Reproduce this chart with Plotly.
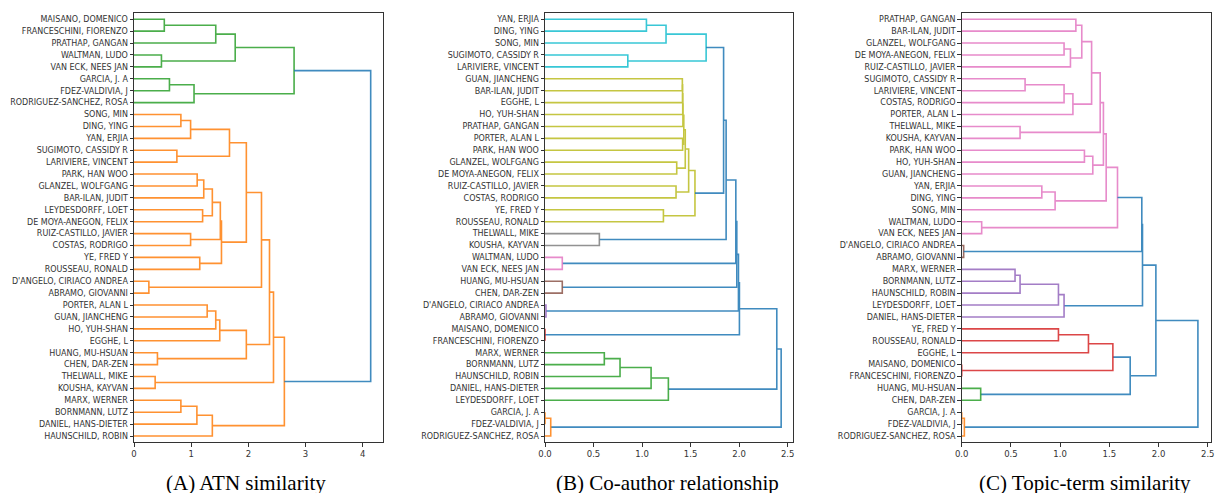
import plotly.graph_objects as go

# ---------------- DATA ----------------
# Leaf labels, top to bottom, for each dendrogram
labels_a = ["MAISANO, DOMENICO", "FRANCESCHINI, FIORENZO", "PRATHAP, GANGAN", "WALTMAN, LUDO",
            "VAN ECK, NEES JAN", "GARCIA, J. A", "FDEZ-VALDIVIA, J", "RODRIGUEZ-SANCHEZ, ROSA",
            "SONG, MIN", "DING, YING", "YAN, ERJIA", "SUGIMOTO, CASSIDY R", "LARIVIERE, VINCENT",
            "PARK, HAN WOO", "GLANZEL, WOLFGANG", "BAR-ILAN, JUDIT", "LEYDESDORFF, LOET",
            "DE MOYA-ANEGON, FELIX", "RUIZ-CASTILLO, JAVIER", "COSTAS, RODRIGO", "YE, FRED Y",
            "ROUSSEAU, RONALD", "D'ANGELO, CIRIACO ANDREA", "ABRAMO, GIOVANNI", "PORTER, ALAN L",
            "GUAN, JIANCHENG", "HO, YUH-SHAN", "EGGHE, L", "HUANG, MU-HSUAN", "CHEN, DAR-ZEN",
            "THELWALL, MIKE", "KOUSHA, KAYVAN", "MARX, WERNER", "BORNMANN, LUTZ",
            "DANIEL, HANS-DIETER", "HAUNSCHILD, ROBIN"]
# linkage rows: [child1, child2, height]; child < 36 -> leaf index, else 36 + earlier row
links_a = [[0, 1, 0.53], [36, 2, 1.43], [3, 4, 0.48], [37, 38, 1.77], [5, 6, 0.62],
           [40, 7, 1.05], [39, 41, 2.80], [8, 9, 0.82], [43, 10, 0.99], [11, 12, 0.75],
           [44, 45, 1.67], [13, 14, 1.105], [47, 15, 1.22], [16, 17, 1.20], [48, 49, 1.37],
           [18, 19, 0.99], [20, 21, 1.15], [50, 51, 1.51], [53, 52, 1.53], [46, 54, 1.965],
           [22, 23, 0.26], [55, 56, 2.23], [24, 25, 1.28], [58, 26, 1.43], [59, 27, 1.50],
           [28, 29, 0.41], [60, 61, 1.965], [57, 62, 2.37], [30, 31, 0.37], [63, 64, 2.44],
           [32, 33, 0.82], [66, 34, 1.10], [67, 35, 1.37], [65, 68, 2.63], [42, 69, 4.14]]
groups_a = ["C2"] * 7 + ["C1"] * 27 + ["C0"]

labels_b = ["YAN, ERJIA", "DING, YING", "SONG, MIN", "SUGIMOTO, CASSIDY R", "LARIVIERE, VINCENT",
            "GUAN, JIANCHENG", "BAR-ILAN, JUDIT", "EGGHE, L", "HO, YUH-SHAN", "PRATHAP, GANGAN",
            "PORTER, ALAN L", "PARK, HAN WOO", "GLANZEL, WOLFGANG", "DE MOYA-ANEGON, FELIX",
            "RUIZ-CASTILLO, JAVIER", "COSTAS, RODRIGO", "YE, FRED Y", "ROUSSEAU, RONALD",
            "THELWALL, MIKE", "KOUSHA, KAYVAN", "WALTMAN, LUDO", "VAN ECK, NEES JAN",
            "HUANG, MU-HSUAN", "CHEN, DAR-ZEN", "D'ANGELO, CIRIACO ANDREA", "ABRAMO, GIOVANNI",
            "MAISANO, DOMENICO", "FRANCESCHINI, FIORENZO", "MARX, WERNER", "BORNMANN, LUTZ",
            "HAUNSCHILD, ROBIN", "DANIEL, HANS-DIETER", "LEYDESDORFF, LOET", "GARCIA, J. A",
            "FDEZ-VALDIVIA, J", "RODRIGUEZ-SANCHEZ, ROSA"]
links_b = [[0, 1, 1.045], [36, 2, 1.247], [3, 4, 0.853], [37, 38, 1.66], [5, 6, 1.415],
           [40, 7, 1.417], [41, 8, 1.419], [42, 9, 1.421], [10, 11, 1.418], [43, 44, 1.43],
           [12, 13, 1.357], [45, 46, 1.445], [14, 15, 1.35], [47, 48, 1.48], [16, 17, 1.22],
           [49, 50, 1.545], [39, 51, 1.84], [18, 19, 0.56], [52, 53, 1.866], [20, 21, 0.178],
           [54, 55, 1.966], [22, 23, 0.178], [56, 57, 1.976], [24, 25, 0.01], [58, 59, 1.993],
           [26, 27, 0.0], [60, 61, 2.003], [28, 29, 0.611], [63, 30, 0.773], [64, 31, 1.093],
           [65, 32, 1.271], [62, 66, 2.388], [33, 34, 0.0], [68, 35, 0.059], [67, 69, 2.433]]
groups_b = (["C9"] * 4 + ["C8"] * 12 + ["C0", "C7", "C0", "C6", "C0", "C5", "C0", "C4", "C0",
            "C3", "C0"] + ["C2"] * 4 + ["C0", "C1", "C1", "C0"])

labels_c = ["PRATHAP, GANGAN", "BAR-ILAN, JUDIT", "GLANZEL, WOLFGANG", "DE MOYA-ANEGON, FELIX",
            "RUIZ-CASTILLO, JAVIER", "SUGIMOTO, CASSIDY R", "LARIVIERE, VINCENT", "COSTAS, RODRIGO",
            "PORTER, ALAN L", "THELWALL, MIKE", "KOUSHA, KAYVAN", "PARK, HAN WOO", "HO, YUH-SHAN",
            "GUAN, JIANCHENG", "YAN, ERJIA", "DING, YING", "SONG, MIN", "WALTMAN, LUDO",
            "VAN ECK, NEES JAN", "D'ANGELO, CIRIACO ANDREA", "ABRAMO, GIOVANNI", "MARX, WERNER",
            "BORNMANN, LUTZ", "HAUNSCHILD, ROBIN", "LEYDESDORFF, LOET", "DANIEL, HANS-DIETER",
            "YE, FRED Y", "ROUSSEAU, RONALD", "EGGHE, L", "MAISANO, DOMENICO",
            "FRANCESCHINI, FIORENZO", "HUANG, MU-HSUAN", "CHEN, DAR-ZEN", "GARCIA, J. A",
            "FDEZ-VALDIVIA, J", "RODRIGUEZ-SANCHEZ, ROSA"]
links_c = [[0, 1, 1.16], [2, 3, 1.04], [37, 4, 1.105], [36, 38, 1.22], [5, 6, 0.644],
           [40, 7, 1.04], [41, 8, 1.13], [39, 42, 1.32], [9, 10, 0.593], [43, 44, 1.407],
           [11, 12, 1.247], [46, 13, 1.332], [45, 47, 1.44], [14, 15, 0.814], [49, 16, 0.949],
           [48, 50, 1.468], [17, 18, 0.203], [51, 52, 1.583], [19, 20, 0.02], [53, 54, 1.83],
           [21, 22, 0.542], [56, 23, 0.593], [57, 24, 0.983], [58, 25, 1.04], [55, 59, 1.837],
           [26, 27, 0.983], [61, 28, 1.288], [29, 30, 0.0], [62, 63, 1.536], [31, 32, 0.193],
           [64, 65, 1.712], [60, 66, 1.973], [33, 34, 0.0], [68, 35, 0.027], [67, 69, 2.40]]
groups_c = (["C6"] * 18 + ["C5", "C0"] + ["C4"] * 4 + ["C0"] + ["C3"] * 4 + ["C2", "C0", "C0",
            "C1", "C1", "C0"])

titles = ["(A) ATN similarity", "(B) Co-author relationship", "(C) Topic-term similarity"]

# ---------------- STYLE ----------------
palette = {"C0": "#1f77b4", "C1": "#ff7f0e", "C2": "#2ca02c", "C3": "#d62728", "C4": "#9467bd",
           "C5": "#8c564b", "C6": "#e377c2", "C7": "#7f7f7f", "C8": "#bcbd22", "C9": "#17becf"}

W, H = 1216, 493
panels = [
    dict(labels=labels_a, links=links_a, groups=groups_a, x0=134.0, x1=382.7, xmax=4.35,
         dtick=1, fmt="d", tx=246),
    dict(labels=labels_b, links=links_b, groups=groups_b, x0=545.0, x1=793.0, xmax=2.555,
         dtick=0.5, fmt=".1f", tx=667),
    dict(labels=labels_c, links=links_c, groups=groups_c, x0=961.7, x1=1210.7, xmax=2.53,
         dtick=0.5, fmt=".1f", tx=1085),
]
top_px, bot_px = 13.3, 442.0

fig = go.Figure()
layout = dict(width=W, height=H, margin=dict(l=0, r=0, t=0, b=0, autoexpand=False),
              showlegend=False, plot_bgcolor="white", paper_bgcolor="white", annotations=[])

for p_i, p in enumerate(panels):
    sfx = "" if p_i == 0 else str(p_i + 1)
    n = len(p["labels"])
    pos = {i: (0.0, float(i)) for i in range(n)}
    segs = {}
    order = []
    for k, (a, b, h) in enumerate(p["links"]):
        xa, ya = pos[a]
        xb, yb = pos[b]
        g = p["groups"][k]
        if g not in segs:
            segs[g] = ([], [])
            order.append(g)
        xs, ys = segs[g]
        xs += [xa, h, h, xb, None]
        ys += [ya, ya, yb, yb, None]
        pos[n + k] = (h, (ya + yb) / 2.0)
    for g in order:
        xs, ys = segs[g]
        fig.add_trace(go.Scatter(x=xs, y=ys, mode="lines", xaxis="x" + sfx, yaxis="y" + sfx,
                                 line=dict(color=palette[g], width=1.6), hoverinfo="skip",
                                 opacity=0.85))
    layout["xaxis" + sfx] = dict(
        domain=[p["x0"] / W, p["x1"] / W], range=[0, p["xmax"]], anchor="y" + sfx,
        automargin=False,
        dtick=p["dtick"], tick0=0, tickformat=p["fmt"], showgrid=False, zeroline=False,
        showline=True, mirror=True, linecolor="#333", linewidth=1, ticks="outside",
        ticklen=3.5, tickcolor="#333", tickfont=dict(family="DejaVu Sans", size=8.5, color="#333"),
        layer="above traces")
    layout["yaxis" + sfx] = dict(
        domain=[1 - bot_px / H, 1 - top_px / H], range=[n - 0.5, -0.5], anchor="x" + sfx,
        automargin=False,
        tickmode="array", tickvals=list(range(n)), ticktext=p["labels"], showgrid=False,
        zeroline=False, showline=True, mirror=True, linecolor="#333", linewidth=1,
        ticks="outside", ticklen=3.5, tickcolor="#333",
        tickfont=dict(family="DejaVu Sans", size=8, color="#333"), layer="above traces")
    layout["annotations"].append(dict(
        text=titles[p_i], x=p["tx"] / W, y=1 - 483 / H, xref="paper", yref="paper",
        xanchor="center", yanchor="middle", showarrow=False,
        font=dict(family="Liberation Serif", size=21, color="black")))

fig.update_layout(**layout)
fig.write_html("out.html", config={"displayModeBar": False},
               post_script="document.body.style.margin='0';document.body.style.overflow='hidden';")
